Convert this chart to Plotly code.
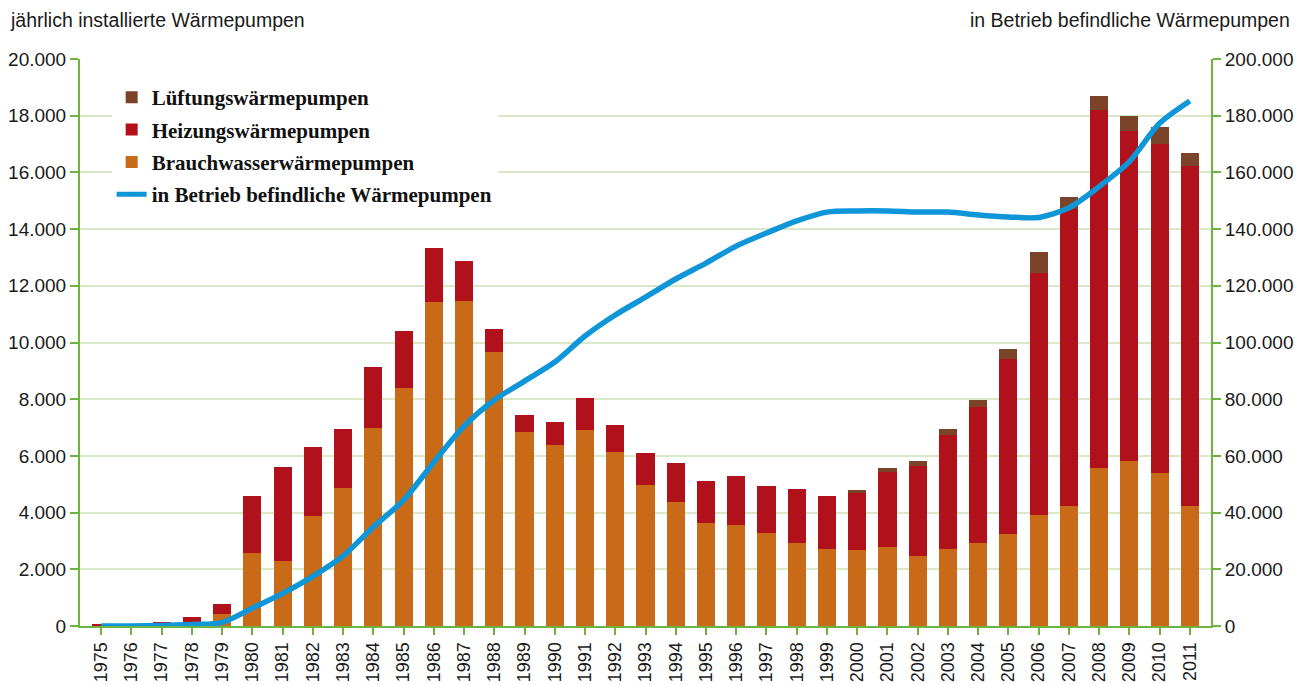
import plotly.graph_objects as go

years = list(range(1975, 2012))

brauchwasser = [20, 10, 60, 150, 420, 2590, 2300, 3880, 4870, 6980, 8400, 11430, 11460, 9660,
                6840, 6380, 6910, 6140, 4970, 4370, 3630, 3560, 3280, 2930, 2700, 2680, 2790,
                2470, 2720, 2930, 3250, 3920, 4230, 5570, 5820, 5400, 4230]
heizung = [50, 20, 80, 180, 360, 2000, 3310, 2430, 2080, 2160, 2000, 1900, 1410, 820,
           600, 820, 1130, 950, 1130, 1380, 1480, 1730, 1660, 1900, 1880, 2010, 2650,
           3170, 4020, 4800, 6170, 8530, 10480, 12630, 11640, 11600, 11990]
lueftung = [0, 0, 0, 0, 0, 0, 0, 0, 0, 0, 0, 0, 0, 0,
            0, 0, 0, 0, 0, 0, 0, 0, 0, 0, 0, 110, 130,
            180, 210, 250, 350, 740, 420, 490, 530, 590, 460]
in_betrieb = [0, 0, 200, 500, 1300, 6300, 11500, 17500, 24700, 34900, 44400, 57800, 70500, 79700,
              86400, 93100, 102300, 109700, 116000, 122400, 128000, 134000, 138600, 142900, 146000,
              146400, 146400, 146000, 146000, 145000, 144300, 144100, 147500, 155000, 163800,
              177300, 185200]

left_ticks = list(range(0, 20001, 2000))
right_ticks = list(range(0, 200001, 20000))

c_brauch = "#c96a18"
c_heiz = "#b0111a"
c_lueft = "#7b4428"
c_line = "#0e96d8"
green = "#6db33f"
grid = "#d8e8c8"

fig = go.Figure()
fig.add_trace(go.Bar(x=years, y=brauchwasser, name="Brauchwasserwärmepumpen",
                     marker=dict(color=c_brauch, line=dict(width=0)), width=0.6,
                     legendrank=3, legendgroup="c"))
fig.add_trace(go.Bar(x=years, y=heizung, name="Heizungswärmepumpen",
                     marker=dict(color=c_heiz, line=dict(width=0)), width=0.6,
                     legendrank=2, legendgroup="b"))
fig.add_trace(go.Bar(x=years, y=lueftung, name="Lüftungswärmepumpen",
                     marker=dict(color=c_lueft, line=dict(width=0)), width=0.6,
                     legendrank=1, legendgroup="a"))
fig.add_trace(go.Scatter(x=years, y=in_betrieb, name="in Betrieb befindliche Wärmepumpen",
                         mode="lines", line=dict(color=c_line, width=5.5, shape="spline", smoothing=0.8),
                         yaxis="y2", legendrank=4, legendgroup="d"))

sans = "Liberation Sans, Arial, sans-serif"
tick_font = dict(family=sans, size=19, color="#1a1a1a")

# the page body adds an 8px margin, so the figure is 8px smaller and margins shifted
fig.update_layout(
    width=1297, height=676,
    margin=dict(l=72, r=94, t=51, b=58, autoexpand=False),
    paper_bgcolor="white", plot_bgcolor="white",
    barmode="stack",
    separators=",.",
    showlegend=True,
    legend=dict(x=0.028, y=0.968, xanchor="left", yanchor="top",
                bgcolor="white", borderwidth=0, traceorder="grouped",
                font=dict(family="Liberation Serif, DejaVu Serif, serif", size=21, color="#111111",
                          weight="bold"),
                itemwidth=30, tracegroupgap=2, itemsizing="constant"),
    xaxis=dict(range=[1974.3, 2011.7], tickmode="array", tickvals=years,
               ticktext=[str(y) for y in years], tickangle=-90, automargin=False,
               tickfont=dict(family=sans, size=18, color="#1a1a1a"),
               ticks="outside", ticklen=7, tickcolor=green, tickwidth=2,
               showline=True, linecolor=green, linewidth=2, showgrid=False, zeroline=False),
    yaxis=dict(range=[0, 20000], tickmode="array", tickvals=left_ticks, automargin=False,
               tickformat=",d", tickfont=tick_font,
               ticks="outside", ticklen=8, tickcolor=green, tickwidth=2,
               showline=True, linecolor=green, linewidth=2,
               showgrid=True, gridcolor=grid, gridwidth=2, zeroline=False),
    yaxis2=dict(range=[0, 200000], tickmode="array", tickvals=right_ticks, automargin=False,
                tickformat=",d", tickfont=tick_font, overlaying="y", side="right",
                ticks="outside", ticklen=8, tickcolor=green, tickwidth=2,
                showline=True, linecolor=green, linewidth=2,
                showgrid=False, zeroline=False),
    annotations=[
        dict(text="jährlich installierte Wärmepumpen", xref="paper", yref="paper",
             x=-0.0637, y=1.0, xanchor="left", yanchor="bottom", yshift=26, showarrow=False,
             font=dict(family=sans, size=19.5, color="#1a1a1a")),
        dict(text="in Betrieb befindliche Wärmepumpen", xref="paper", yref="paper",
             x=1.0716, y=1.0, xanchor="right", yanchor="bottom", yshift=26, showarrow=False,
             font=dict(family=sans, size=19.5, color="#1a1a1a")),
    ],
)

fig.write_html("out.html")
